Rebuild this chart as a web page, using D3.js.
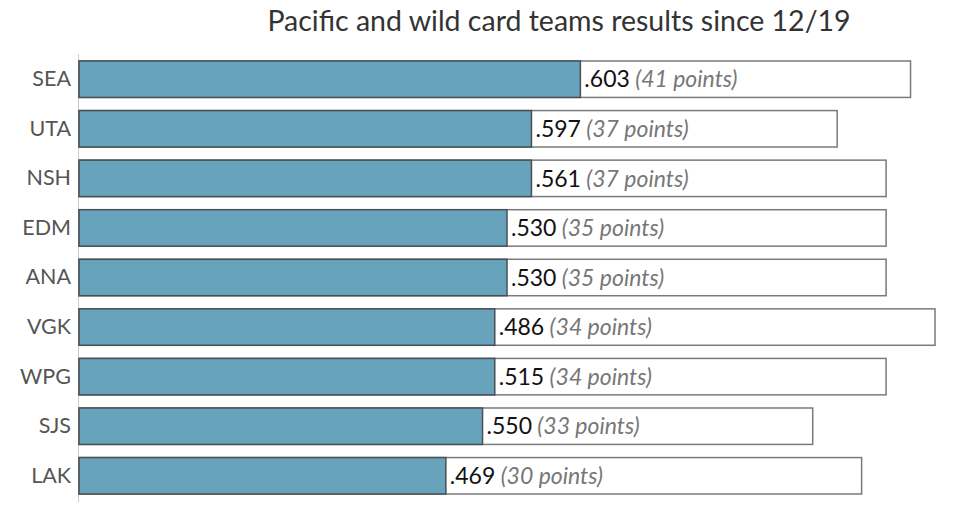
<!DOCTYPE html>
<html>
<head>
<meta charset="utf-8">
<script src="https://cdn.jsdelivr.net/npm/d3@7"></script>
<style>
  html, body { margin: 0; padding: 0; background: #fff; }
  svg { display: block; }
</style>
</head>
<body>
<svg id="chart" width="975" height="509"></svg>
<script>
const teams = ["SEA", "UTA", "NSH", "EDM", "ANA", "VGK", "WPG", "SJS", "LAK"];
const points = [41, 37, 37, 35, 35, 34, 34, 33, 30];
const possiblePoints = [68, 62, 66, 66, 66, 70, 66, 60, 64];
const pctLabels = [".603", ".597", ".561", ".530", ".530", ".486", ".515", ".550", ".469"];
const title = "Pacific and wild card teams results since 12/19";

const svg = d3.select("#chart");

const x = d3.scaleLinear().domain([0, 70]).range([79, 935]);
const y = d3.scaleBand().domain(teams).range([61, 494]).paddingInner(0.265).paddingOuter(0);

const rows = teams.map((t, i) => ({ team: t, pts: points[i], max: possiblePoints[i], pct: pctLabels[i] }));

svg.append("text")
  .attr("x", 559).attr("y", 31)
  .attr("text-anchor", "middle")
  .attr("font-family", "Lato, sans-serif")
  .attr("font-size", 28.5)
  .attr("fill", "#333")
  .text(title);

// axis line
svg.append("line")
  .attr("x1", 78.5).attr("x2", 78.5)
  .attr("y1", 54).attr("y2", 502)
  .attr("stroke", "#ccc").attr("stroke-width", 1);

const g = svg.append("g");

// outline bars (possible points)
g.selectAll("rect.total").data(rows).join("rect")
  .attr("class", "total")
  .attr("x", x(0))
  .attr("y", d => y(d.team))
  .attr("width", d => x(d.max) - x(0))
  .attr("height", y.bandwidth())
  .attr("fill", "#fff")
  .attr("stroke", "#7a7a7a")
  .attr("stroke-width", 1.5);

// filled bars (points)
g.selectAll("rect.fill").data(rows).join("rect")
  .attr("class", "fill")
  .attr("x", x(0))
  .attr("y", d => y(d.team))
  .attr("width", d => x(d.pts) - x(0))
  .attr("height", y.bandwidth())
  .attr("fill", "#67a3ba")
  .attr("stroke", "#4a4f55")
  .attr("stroke-width", 1.5);

// team labels
const yAxis = d3.axisLeft(y).tickSize(0).tickPadding(8);
const ya = svg.append("g").attr("transform", `translate(${x(0)},0)`).call(yAxis);
ya.select(".domain").remove();
ya.selectAll("text")
  .attr("font-family", "Lato, sans-serif")
  .attr("font-size", 21.5)
  .attr("fill", "#555");

// value labels
const lab = g.selectAll("text.val").data(rows).join("text")
  .attr("class", "val")
  .attr("x", d => x(d.pts) + 4)
  .attr("y", d => y(d.team) + y.bandwidth() / 2)
  .attr("dy", "0.36em")
  .attr("font-family", "Lato, sans-serif")
  .attr("font-size", 23);
lab.append("tspan").attr("fill", "#111").text(d => d.pct);
lab.append("tspan").attr("fill", "#777").attr("font-style", "italic")
  .text(d => ` (${d.pts} points)`);
</script>
</body>
</html>
